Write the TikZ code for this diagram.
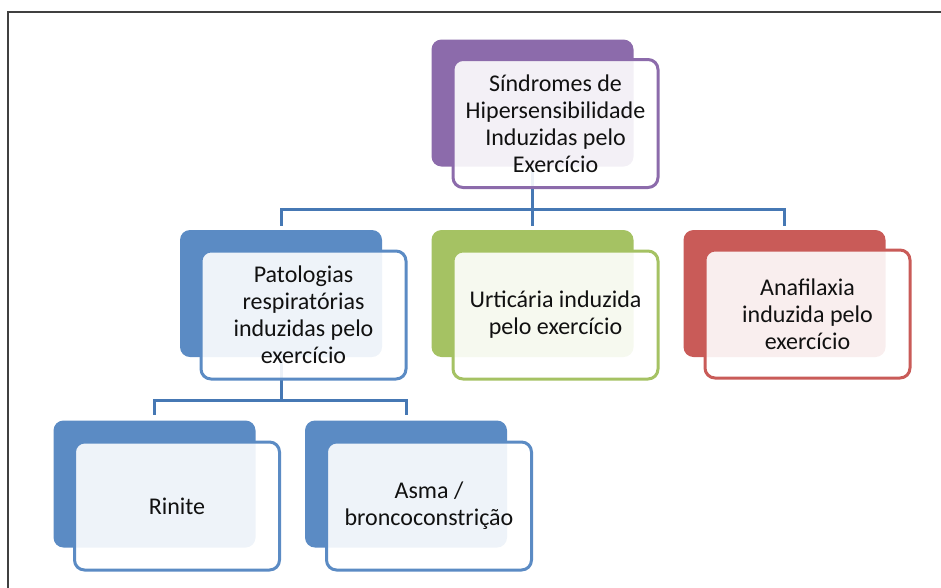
\documentclass[tikz,border=0pt]{standalone}
\usepackage{fontspec}
\setmainfont{Carlito}
\definecolor{cpurple}{HTML}{8C6BAB}
\definecolor{cblue}{HTML}{5B8BC4}
\definecolor{cgreen}{HTML}{A5C263}
\definecolor{cred}{HTML}{C95B58}
\definecolor{cline}{HTML}{4678B4}
\definecolor{ctext}{HTML}{111111}
\begin{document}
\begin{tikzpicture}[x=1pt,y=-1pt,
  backbox/.style={rounded corners=10pt,minimum width=202pt,minimum height=127pt,inner sep=0pt},
  frontbox/.style={rounded corners=10pt,line width=3pt,fill=white,fill opacity=0.9,text opacity=1,
    minimum width=205pt,minimum height=128pt,inner sep=0pt,align=center,text=ctext,
    font=\fontsize{24}{27}\selectfont},
  conn/.style={draw=cline,line width=3pt},
  frame/.style={draw=black!75,line width=1.5pt}]
\useasboundingbox (0,0) rectangle (941,587);
\draw[frame] (8,590) -- (8,12) -- (945,12);
% back boxes
\node[backbox,fill=cpurple] (sb) at (532.5,103) {};
\node[backbox,fill=cblue] (pb) at (281,293.5) {};
\node[backbox,fill=cgreen] (ub) at (532.5,293.5) {};
\node[backbox,fill=cred] (ab) at (784.5,293.5) {};
\node[backbox,fill=cblue] (rb) at (154.5,484) {};
\node[backbox,fill=cblue] (mb) at (406,484) {};
% connectors
\coordinate (j1) at (532.5,209);
\coordinate (j2) at (281,400);
\draw[conn] (sb.south) -- (j1);
\draw[conn,shorten >=4pt] (j1) -| (pb.north);
\draw[conn,shorten >=4pt] (j1) -- (ub.north);
\draw[conn,shorten >=4pt] (j1) -| (ab.north);
\draw[conn] (pb.south) -- (j2);
\draw[conn,shorten >=5pt] (j2) -| (rb.north);
\draw[conn,shorten >=5pt] (j2) -| (mb.north);
% front boxes
\node[frontbox,draw=cpurple] (s) at (555.5,123.5) {Síndromes de\\Hipersensibilidade\\Induzidas pelo\\Exercício};
\node[frontbox,draw=cblue] (p) at (303.5,315) {Patologias\\respiratórias\\induzidas pelo\\exercício};
\node[frontbox,draw=cgreen] (u) at (555.5,315) {Urticária induzida\\pelo exercício};
\node[frontbox,draw=cred] (a) at (807.5,314) {Anafilaxia\\induzida pelo\\exercício};
\node[frontbox,draw=cblue] (r) at (177,506) {Rinite};
\node[frontbox,draw=cblue] (m) at (429,506) {Asma /\\broncoconstrição};
\end{tikzpicture}
\end{document}
